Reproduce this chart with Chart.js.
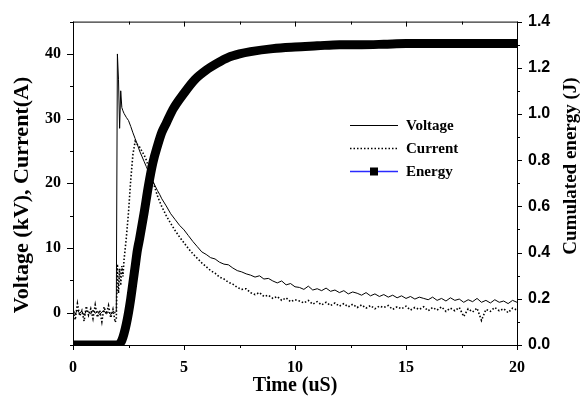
<!DOCTYPE html>
<html>
<head>
<meta charset="utf-8">
<title>Voltage, current and cumulated energy</title>
<script src="https://cdn.jsdelivr.net/npm/chart.js@4.4.0/dist/chart.umd.min.js"></script>
<style>
  html, body { margin: 0; padding: 0; background: #fff; }
  #wrap { width: 581px; height: 404px; }
</style>
</head>
<body>
<div id="wrap"><canvas id="chart" width="581" height="404"></canvas></div>
<script>
// --- Data ---
const seriesNames = ['Voltage', 'Current', 'Energy'];
const xTitle = 'Time (uS)';
const leftTitle = 'Voltage (kV), Current(A)';
const rightTitle = 'Cumulated energy (J)';

const xTicks = [0, 5, 10, 15, 20];
const voltTicks = [0, 10, 20, 30, 40];
const energyTicks = [0, 0.2, 0.4, 0.6, 0.8, 1.0, 1.2, 1.4];

// time base (us) shared by voltage and current
const timeUs = [
  0, 0.1, 0.2, 0.3, 0.4, 0.5, 0.6, 0.7, 0.8, 0.9, 1.0, 1.1, 1.2, 1.3, 1.4, 1.5, 1.6, 1.7, 1.8, 1.9,
  1.95, 2.0, 2.05, 2.1, 2.15, 2.2, 2.25, 2.3,
  2.4, 2.5, 2.6, 2.7, 2.8, 2.9, 3.0, 3.1, 3.2, 3.3, 3.4, 3.5, 3.6, 3.7, 3.8, 3.9, 4.0,
  4.2, 4.4, 4.6, 4.8, 5.0, 5.2, 5.4, 5.6, 5.8, 6.0,
  6.2, 6.4, 6.6, 6.8, 7.0, 7.2, 7.4, 7.6, 7.8, 8.0,
  8.2, 8.4, 8.6, 8.8, 9.0, 9.2, 9.4, 9.6, 9.8, 10.0,
  10.2, 10.4, 10.6, 10.8, 11.0, 11.2, 11.4, 11.6, 11.8, 12.0,
  12.2, 12.4, 12.6, 12.8, 13.0, 13.2, 13.4, 13.6, 13.8, 14.0,
  14.2, 14.4, 14.6, 14.8, 15.0, 15.2, 15.4, 15.6, 15.8, 16.0,
  16.2, 16.4, 16.6, 16.8, 17.0, 17.2, 17.4, 17.6, 17.8, 18.0,
  18.2, 18.4, 18.6, 18.8, 19.0, 19.2, 19.4, 19.6, 19.8, 20.0
];

// kV
const voltage = [
  0.3, -0.2, 0.4, -0.1, 0.2, -0.4, 0.3, 0.1, -0.2, 0.4, -0.1, 0.2, -0.3, 0.1, 0.3, -0.2, 0.1, -0.3, 0.2, 0.0,
  0.2, 40.0, 36.0, 28.5, 34.3, 31.7, 31.2, 30.8,
  30.2, 29.7, 28.8, 27.8, 26.9, 26.0, 25.0, 24.2, 23.4, 22.6, 21.8, 21.0, 20.3, 19.6, 18.9, 18.3, 17.6,
  16.5, 15.3, 14.4, 13.5, 12.8, 11.9, 11.0, 10.2, 9.4, 9.0,
  8.5, 8.3, 7.8, 7.5, 7.4, 6.9, 6.5, 6.3, 6.0, 5.8,
  5.5, 5.7, 5.2, 5.3, 4.9, 4.6, 4.9, 4.3, 4.5, 4.0,
  3.9, 3.6, 4.1, 3.5, 3.7, 3.4, 3.8, 3.3, 3.5, 3.1,
  3.4, 2.9, 3.2, 3.0, 2.7, 3.1, 2.6, 2.9, 2.5, 2.8,
  2.4, 2.7, 2.3, 2.6, 2.2, 2.5, 2.1, 2.4, 2.2, 2.0,
  2.4, 1.9, 2.2, 1.8, 2.3, 1.9, 2.1, 1.6, 2.0, 1.7,
  2.2, 1.6, 1.9, 1.5, 2.0, 1.6, 1.8, 1.4, 1.9, 1.6
];

// A
const current = [
  0.8, -1.1, 1.4, -0.5, 0.3, -1.3, 1.0, -0.4, 0.6, -0.9, 1.2, -0.7, 0.4, -1.4, 0.9, -0.2, 1.1, -0.8, 0.5, -1.5,
  -1.0, 7.5, 3.0, 6.8, 4.2, 7.2, 5.6, 8.2,
  11.5, 15.5, 20.5, 24.5, 26.5, 26.0, 25.6, 25.0, 24.4, 23.6, 22.6, 21.5, 20.3, 19.2, 18.1, 17.2, 16.4,
  15.0, 13.8, 12.7, 11.7, 10.8, 9.9, 9.1, 8.4, 7.7, 7.1,
  6.5, 6.1, 5.5, 5.2, 4.7, 4.4, 3.9, 3.6, 3.7, 3.1,
  2.8, 3.1, 2.5, 2.7, 2.2, 2.5, 1.9, 2.3, 1.7, 2.0,
  1.8, 1.5, 1.9, 1.3, 1.7, 1.2, 1.6, 1.1, 1.5, 1.0,
  1.4, 0.9, 1.3, 0.8, 1.2, 0.7, 1.1, 0.6, 1.0, 0.8,
  1.1, 0.5, 0.9, 0.6, 1.0, 0.4, 0.8, 0.5, 0.9, 0.3,
  0.8, 0.4, 0.9, 0.2, 0.7, 0.3, 0.8, -0.6, 0.6, 0.1,
  0.7, -1.2, 0.5, 0.2, 0.8, 0.3, 0.6, 0.0, 0.7, 0.4
];

// J
const energyTime = [0, 2.0, 2.1, 2.2, 2.3, 2.4, 2.5, 2.6, 2.7, 2.8, 2.9, 3.0, 3.2, 3.4, 3.6, 3.8, 4.0, 4.2, 4.5,
  5.0, 5.5, 6.0, 6.5, 7.0, 7.5, 8.0, 9.0, 10.0, 11.0, 12.0, 13.0, 14.0, 15.0, 17.0, 20.0];
const energy = [0, 0, 0.005, 0.02, 0.05, 0.09, 0.14, 0.20, 0.27, 0.34, 0.41, 0.46, 0.57, 0.69, 0.79, 0.86, 0.92, 0.96, 1.02,
  1.09, 1.15, 1.19, 1.22, 1.245, 1.26, 1.27, 1.283, 1.29, 1.295, 1.30, 1.30, 1.302, 1.305, 1.305, 1.305];

const serif = 'Liberation Serif, Times New Roman, serif';
const sans = 'Liberation Sans, Arial, sans-serif';

function pairs(xs, ys) {
  return xs.map((x, i) => ({ x: x, y: ys[i] }));
}

// frame, tick marks, vertical titles and legend
const decorations = {
  id: 'decorations',
  afterDatasetsDraw(chart) {
    const { ctx, chartArea: a, scales } = chart;
    const xs = scales.x, yl = scales.y, yr = scales.y1;
    ctx.save();
    ctx.strokeStyle = '#000';
    ctx.lineWidth = 1;
    ctx.strokeRect(a.left + 0.5, a.top + 0.5, a.right - a.left, a.bottom - a.top);

    ctx.beginPath();
    // time axis: every 2.5 us, outward at bottom, inward at top
    for (let i = 0; i <= 8; i++) {
      const px = Math.round(xs.getPixelForValue(i * 2.5)) + 0.5;
      const len = i % 2 === 0 ? 5 : 3;
      ctx.moveTo(px, a.bottom); ctx.lineTo(px, a.bottom + len);
      ctx.moveTo(px, a.top); ctx.lineTo(px, a.top + len);
    }
    // left axis: every 5, major every 10
    for (let i = -1; i <= 9; i++) {
      const py = Math.round(yl.getPixelForValue(i * 5)) + 0.5;
      const len = i % 2 === 0 ? 6 : 3;
      ctx.moveTo(a.left - len, py); ctx.lineTo(a.left, py);
    }
    // right axis: every 0.1, major every 0.2
    for (let i = 0; i <= 14; i++) {
      const py = Math.round(yr.getPixelForValue(i / 10)) + 0.5;
      const len = i % 2 === 0 ? 5 : 3;
      ctx.moveTo(a.right, py); ctx.lineTo(a.right + len, py);
    }
    ctx.stroke();

    // vertical axis titles, both reading bottom to top
    ctx.fillStyle = '#000';
    ctx.textAlign = 'center';
    ctx.textBaseline = 'middle';
    ctx.font = 'bold 22px ' + serif;
    ctx.save();
    ctx.translate(22, 195);
    ctx.rotate(-Math.PI / 2);
    ctx.fillText(leftTitle, 0, 0);
    ctx.restore();
    ctx.font = 'bold 19px ' + serif;
    ctx.save();
    ctx.translate(571, 166);
    ctx.rotate(-Math.PI / 2);
    ctx.fillText(rightTitle, 0, 0);
    ctx.restore();

    // legend
    const lx0 = 350, lx1 = 398, tx = 406;
    const rows = [125, 148, 171];
    ctx.font = 'bold 15px ' + serif;
    ctx.textAlign = 'left';
    rows.forEach((ry, i) => {
      ctx.beginPath();
      if (i === 0) {
        ctx.strokeStyle = '#000'; ctx.lineWidth = 1; ctx.setLineDash([]);
      } else if (i === 1) {
        ctx.strokeStyle = '#000'; ctx.lineWidth = 1.6; ctx.setLineDash([1.5, 2]);
      } else {
        ctx.strokeStyle = '#2a2aff'; ctx.lineWidth = 1.5; ctx.setLineDash([]);
      }
      ctx.moveTo(lx0, ry + 0.5); ctx.lineTo(lx1, ry + 0.5);
      ctx.stroke();
      if (i === 2) {
        ctx.fillStyle = '#000';
        ctx.fillRect(370, ry - 3.5, 8, 8);
      }
      ctx.setLineDash([]);
      ctx.fillStyle = '#000';
      ctx.fillText(seriesNames[i], tx, ry + 1);
    });
    ctx.restore();
  }
};

new Chart(document.getElementById('chart'), {
  type: 'line',
  data: {
    datasets: [
      {
        label: seriesNames[2],
        data: pairs(energyTime, energy),
        yAxisID: 'y1',
        borderColor: '#000',
        borderWidth: 9,
        pointRadius: 0,
        cubicInterpolationMode: 'monotone',
        order: 0
      },
      {
        label: seriesNames[0],
        data: pairs(timeUs, voltage),
        yAxisID: 'y',
        borderColor: '#000',
        borderWidth: 1,
        pointRadius: 0,
        tension: 0,
        order: 1
      },
      {
        label: seriesNames[1],
        data: pairs(timeUs, current),
        yAxisID: 'y',
        borderColor: '#000',
        borderWidth: 1.6,
        borderDash: [1.5, 2],
        pointRadius: 0,
        tension: 0,
        order: 2
      }
    ]
  },
  options: {
    responsive: false,
    animation: false,
    events: [],
    layout: { padding: { top: 21, left: 0, right: 0, bottom: 0 } },
    plugins: {
      legend: { display: false },
      tooltip: { enabled: false }
    },
    scales: {
      x: {
        type: 'linear',
        min: 0,
        max: 20,
        afterBuildTicks: s => { s.ticks = xTicks.map(v => ({ value: v })); },
        afterFit: s => { s.height = 59; },
        grid: { display: false, drawTicks: false },
        border: { display: false },
        ticks: {
          padding: 13,
          color: '#000',
          maxRotation: 0,
          font: { family: serif, weight: 'bold', size: 16 }
        },
        title: {
          display: true,
          text: xTitle,
          color: '#000',
          font: { family: serif, weight: 'bold', size: 20 },
          padding: { top: 0, bottom: 6 }
        }
      },
      y: {
        type: 'linear',
        position: 'left',
        min: -5,
        max: 45,
        afterBuildTicks: s => { s.ticks = voltTicks.map(v => ({ value: v })); },
        afterFit: s => { s.width = 73; },
        grid: { display: false, drawTicks: false },
        border: { display: false },
        ticks: {
          padding: 12,
          color: '#000',
          font: { family: serif, weight: 'bold', size: 16 }
        }
      },
      y1: {
        type: 'linear',
        position: 'right',
        min: 0,
        max: 1.4,
        afterBuildTicks: s => { s.ticks = energyTicks.map(v => ({ value: v })); },
        afterFit: s => { s.width = 64; },
        grid: { display: false, drawTicks: false },
        border: { display: false },
        ticks: {
          padding: 11,
          color: '#000',
          font: { family: sans, weight: 'bold', size: 16 },
          callback: v => Number(v).toFixed(1)
        }
      }
    }
  },
  plugins: [decorations]
});
</script>
</body>
</html>
